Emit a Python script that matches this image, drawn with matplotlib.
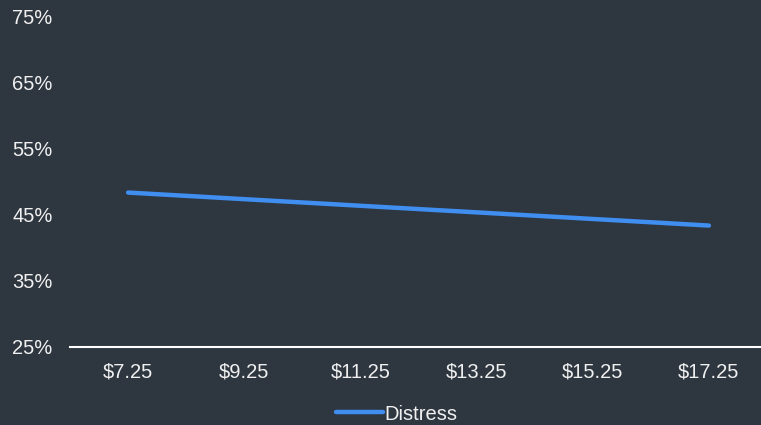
import matplotlib.pyplot as plt

plt.rcParams['font.family'] = ['Liberation Sans', 'DejaVu Sans']

# data
wages = ["$7.25", "$9.25", "$11.25", "$13.25", "$15.25", "$17.25"]
distress = [48.4, 47.4, 46.4, 45.4, 44.4, 43.4]
y_ticks = [25, 35, 45, 55, 65, 75]

bg = "#2e3640"
fg = "#f0f0f0"

fig = plt.figure(figsize=(7.61, 4.25), dpi=100, facecolor=bg)
# plot area runs a little past the right edge of the figure
ax = fig.add_axes([70 / 761, 78 / 425, 697 / 761, 330 / 425])
ax.set_facecolor(bg)

x = range(len(wages))
ax.plot(x, distress, color="#3f8ef0", lw=3.2, solid_capstyle="round", label="Distress")

ax.set_xlim(-0.5, len(wages) - 0.5)
ax.set_ylim(25, 75)
ax.set_xticks(list(x))
ax.set_xticklabels(wages)
ax.set_yticks(y_ticks)
ax.set_yticklabels([f"{v}%" for v in y_ticks])
ax.tick_params(axis="both", length=0, colors=fg, labelsize=14.5)
ax.tick_params(axis="x", pad=11)
ax.tick_params(axis="y", pad=12.5)
for lbl in ax.get_yticklabels():
    lbl.set_horizontalalignment("right")

for s in ["top", "right", "left"]:
    ax.spines[s].set_visible(False)
ax.spines["bottom"].set_color("white")
ax.spines["bottom"].set_linewidth(1.5)

leg = fig.legend(loc="center", bbox_to_anchor=(397 / 761, 11 / 425), frameon=False,
                 fontsize=14.5, handlelength=2.3, handletextpad=0.1)
for t in leg.get_texts():
    t.set_color(fg)

fig.savefig("out.png", dpi=100, facecolor=bg)
